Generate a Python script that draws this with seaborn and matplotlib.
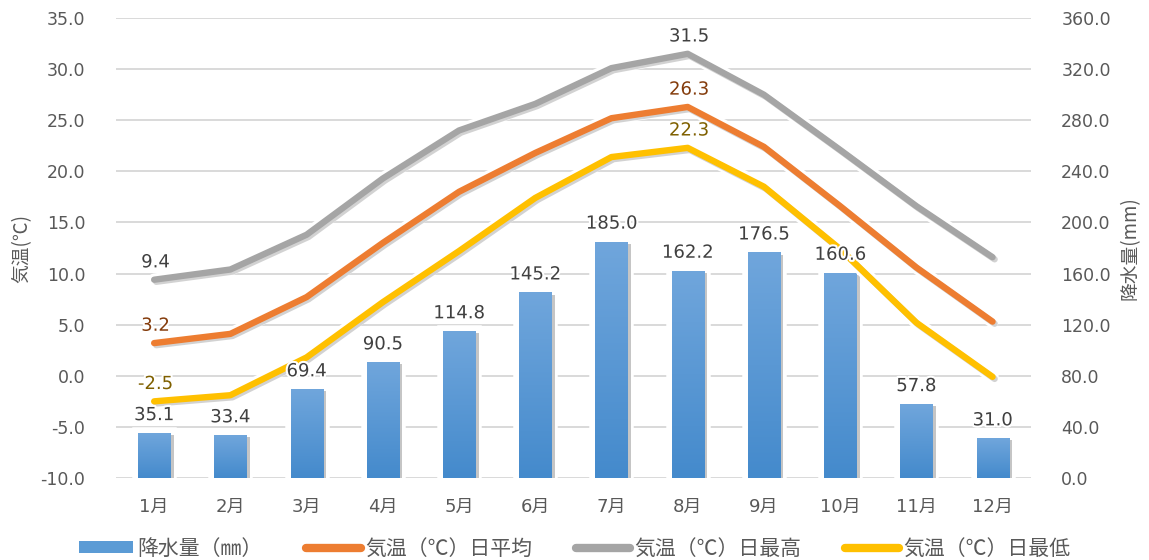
import numpy as np
import pandas as pd
import matplotlib
matplotlib.use("Agg")
import matplotlib.pyplot as plt
import matplotlib.patheffects as pe
from matplotlib.lines import Line2D
from matplotlib.patches import Patch
import seaborn as sns

# ---- data -------------------------------------------------------------
months = ["1月", "2月", "3月", "4月", "5月", "6月",
          "7月", "8月", "9月", "10月", "11月", "12月"]
precip = [35.1, 33.4, 69.4, 90.5, 114.8, 145.2,
          185.0, 162.2, 176.5, 160.6, 57.8, 31.0]
temp_avg = [3.2, 4.1, 7.7, 13.0, 18.0, 21.8, 25.2, 26.3, 22.4, 16.6, 10.6, 5.3]
temp_max = [9.4, 10.4, 13.8, 19.3, 24.0, 26.6, 30.1, 31.5, 27.5, 22.1, 16.6, 11.6]
temp_min = [-2.5, -1.9, 1.8, 7.2, 12.2, 17.4, 21.4, 22.3, 18.5, 12.4, 5.2, -0.1]
temp_ticks = [-10, -5, 0, 5, 10, 15, 20, 25, 30, 35]
precip_ticks = [0, 40, 80, 120, 160, 200, 240, 280, 320, 360]

series_names = ["気温（℃）日平均", "気温（℃）日最高", "気温（℃）日最低"]
series_values = [temp_avg, temp_max, temp_min]
series_colors = ["#ED7D31", "#A5A5A5", "#FFC000"]
series_label_colors = ["#843C0C", "#404040", "#7F6000"]
bar_name = "降水量（㎜）"
labelled_months = ["1月", "8月"]

# ---- style ------------------------------------------------------------
sns.set_theme(style="white")
plt.rcParams["font.family"] = ["DejaVu Sans", "Noto Sans CJK JP"]
TXT = "#595959"
CJK = ["Noto Sans CJK JP", "DejaVu Sans"]

fig = plt.figure(figsize=(11.49, 5.60), dpi=100)
ax_bar = fig.add_axes([0.101, 0.1464, 0.796, 0.8214])
ax_line = ax_bar.twinx()

# ---- precipitation bars (right axis) ----------------------------------
df_bar = pd.DataFrame({"month": months, "precip": precip})
sns.barplot(data=df_bar, x="month", y="precip", ax=ax_bar, color="#5B9BD5",
            width=0.42, saturation=1, zorder=2)

grad = np.linspace(0, 1, 256).reshape(-1, 1)
top_c = np.array([112, 166, 220]) / 255
bot_c = np.array([68, 138, 204]) / 255
grad_img = (bot_c[None, None, :] * (1 - grad[..., None]) + top_c[None, None, :] * grad[..., None])
for p in ax_bar.patches:
    p.set_edgecolor("none")
    p.set_path_effects([pe.Stroke(linewidth=9, foreground="white"),
                        pe.SimplePatchShadow(offset=(2.5, -1.5), shadow_rgbFace="#7f7f7f", alpha=0.45),
                        pe.Normal()])
    x0, w, h = p.get_x(), p.get_width(), p.get_height()
    im = ax_bar.imshow(grad_img, extent=[x0, x0 + w, 0, h], origin="lower",
                       aspect="auto", zorder=2.5)
    im.set_clip_path(p)
ax_bar.set_ylim(0, 360)
ax_bar.set_xlim(-0.5, len(months) - 0.5)

ax_bar.set_yticks(precip_ticks)
ax_bar.set_yticklabels([f"{v:.1f}" for v in precip_ticks])
ax_bar.yaxis.tick_right()
ax_bar.yaxis.set_label_position("right")
ax_bar.set_ylabel("降水量(mm)", family=CJK, fontsize=13.5, color=TXT, labelpad=6)
ax_bar.set_xlabel("")
ax_bar.grid(axis="y", color="#D9D9D9", linewidth=1.4)
ax_bar.set_axisbelow(True)
ax_bar.tick_params(axis="y", length=0, labelsize=12.5, labelcolor=TXT, pad=22)
ax_bar.tick_params(axis="x", length=0, labelsize=13, labelcolor=TXT, pad=14)
for t in ax_bar.get_xticklabels():
    t.set_family(["DejaVu Sans", "Noto Sans CJK JP"])

# ---- temperature lines (left axis) ------------------------------------
rows = []
for name, vals in zip(series_names, series_values):
    for m, v in zip(months, vals):
        rows.append({"month": m, "temp": v, "series": name})
df_line = pd.DataFrame(rows)
sns.lineplot(data=df_line, x="month", y="temp", hue="series",
             palette=dict(zip(series_names, series_colors)),
             hue_order=series_names, ax=ax_line, linewidth=4.6,
             sort=False, legend=False)
for ln in ax_line.get_lines():
    ln.set_solid_capstyle("round")
    ln.set_solid_joinstyle("round")
    ln.set_path_effects([pe.Stroke(linewidth=9, foreground="white"),
                         pe.SimpleLineShadow(offset=(1.5, -1.5), shadow_color="#808080", alpha=0.35),
                         pe.Normal()])

ax_line.set_ylim(-10, 35)
ax_line.set_yticks(temp_ticks)
ax_line.set_yticklabels([f"{v:.1f}" for v in temp_ticks])
ax_line.yaxis.tick_left()
ax_line.yaxis.set_label_position("left")
ax_line.set_ylabel("気温(℃)", family=CJK, fontsize=13.5, color=TXT, labelpad=6)
ax_line.tick_params(axis="y", length=0, labelsize=12.5, labelcolor=TXT, pad=22)
ax_line.grid(False)

for ax in (ax_bar, ax_line):
    for s in ax.spines.values():
        s.set_visible(False)

halo = [pe.withStroke(linewidth=3, foreground="white")]

# bar value labels
for i, v in enumerate(precip):
    y_t = (v / 360) * 45 - 10
    ax_line.annotate(f"{v:.1f}", (i, y_t), xytext=(0, 6.5), textcoords="offset points",
                     ha="center", va="bottom", fontsize=13, color="#404040",
                     path_effects=halo, zorder=6)

# line value labels
for name, vals, lc in zip(series_names, series_values, series_label_colors):
    for m in labelled_months:
        i = months.index(m)
        ax_line.annotate(f"{vals[i]:.1f}", (i, vals[i]), xytext=(1, 6),
                         textcoords="offset points", ha="center", va="bottom",
                         fontsize=13, color=lc, path_effects=halo, zorder=6)

# ---- legend ------------------------------------------------------------
handles = [Patch(facecolor="#5B9BD5", edgecolor="none")]
handles += [Line2D([0], [0], color=c, linewidth=6, solid_capstyle="round") for c in series_colors]
labels = [bar_name] + series_names
fig.legend(handles, labels, loc="center", bbox_to_anchor=(0.5, 0.02), ncol=4,
           frameon=False, prop={"family": CJK, "size": 15},
           labelcolor=TXT, handlelength=2.6, handleheight=0.5,
           handletextpad=0.2, columnspacing=2.1)

fig.savefig("out.png", dpi=100)
